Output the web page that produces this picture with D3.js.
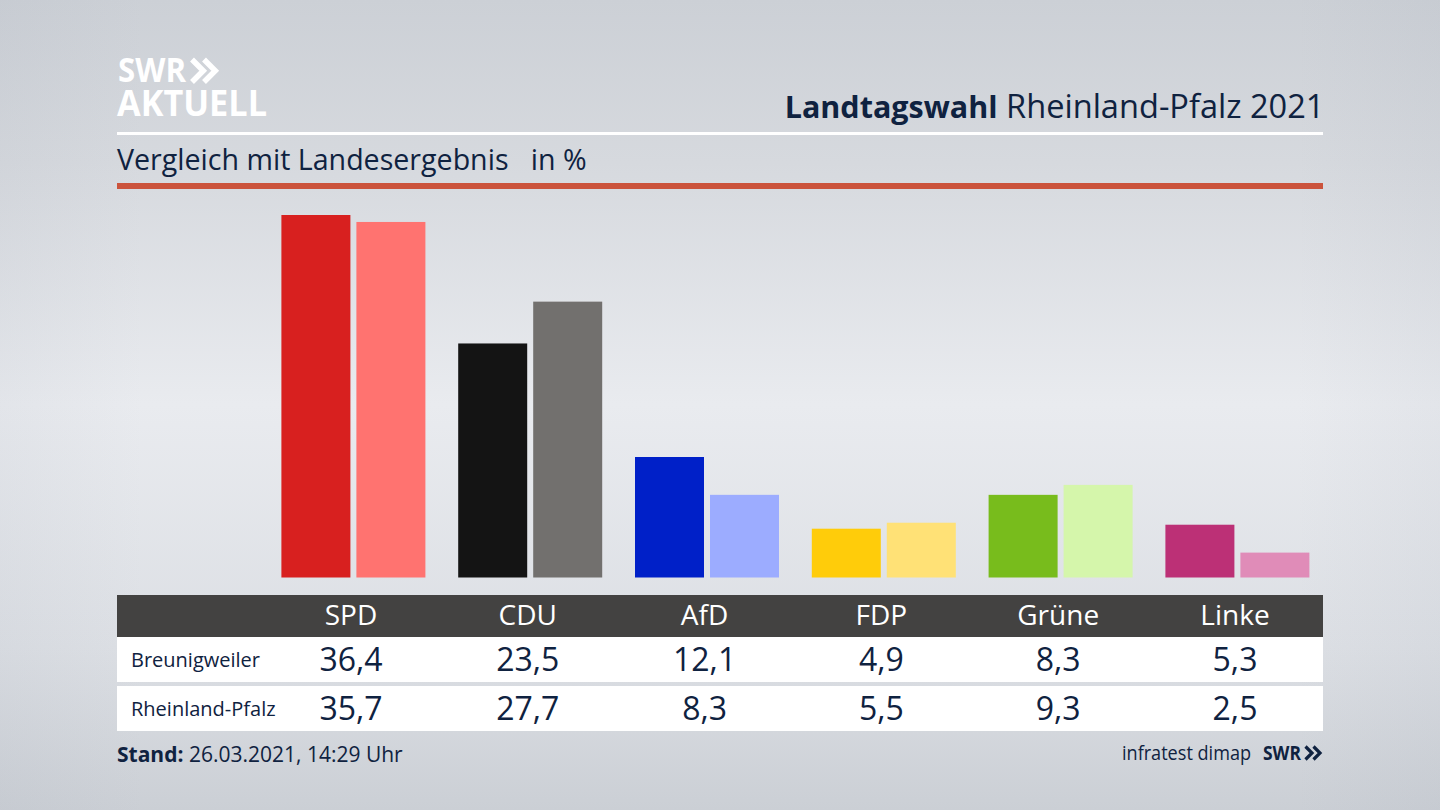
<!DOCTYPE html>
<html>
<head>
<meta charset="utf-8">
<script src="https://cdn.jsdelivr.net/npm/d3@7"></script>
<style>
	html, body { margin: 0; padding: 0; background: #d8dbe0; }
	svg { display: block; }
	text { font-family: "Open Sans", "Noto Sans", sans-serif; }
</style>
</head>
<body>
<div id="chart"></div>
<script>
const parties = ['SPD', 'CDU', 'AfD', 'FDP', 'Grüne', 'Linke']
const regions = ['Breunigweiler', 'Rheinland-Pfalz']
const breunigweiler = [36.4, 23.5, 12.1, 4.9, 8.3, 5.3]
const rheinlandPfalz = [35.7, 27.7, 8.3, 5.5, 9.3, 2.5]
const colorsLocal = ['#d8201f', '#141414', '#0020c8', '#ffcc0a', '#78bc1c', '#bc3076']
const colorsState = ['#ff7370', '#72706e', '#9cacff', '#ffe176', '#d5f6ab', '#e08cb8']

const navy = '#0f2240'
const width = 1440
const height = 810

const svg = d3.select('#chart').append('svg')
	.attr('width', width)
	.attr('height', height)

const defs = svg.append('defs')

const bgGrad = defs.append('linearGradient')
	.attr('id', 'bg')
	.attr('x1', 0).attr('y1', 0).attr('x2', 0).attr('y2', 1)
bgGrad.selectAll('stop')
	.data([[0, '#ccd0d6'], [0.2, '#d6d9de'], [0.5, '#e9ebef'], [0.8, '#dcdfe4'], [1, '#cbcfd5']])
	.enter()
	.append('stop')
	.attr('offset', d => d[0])
	.attr('stop-color', d => d[1])

const edgeGrad = defs.append('linearGradient')
	.attr('id', 'edge')
	.attr('x1', 0).attr('y1', 0).attr('x2', 1).attr('y2', 0)
edgeGrad.selectAll('stop')
	.data([[0, 0.07], [0.1, 0], [0.9, 0], [1, 0.07]])
	.enter()
	.append('stop')
	.attr('offset', d => d[0])
	.attr('stop-color', '#8a93a3')
	.attr('stop-opacity', d => d[1])

svg.append('rect').attr('width', width).attr('height', height).attr('fill', 'url(#bg)')
svg.append('rect').attr('width', width).attr('height', height).attr('fill', 'url(#edge)')

// scales
const x = d3.scaleBand().domain(parties).range([262.6, 1323.4])
const xInner = d3.scaleBand().domain([0, 1]).range([0, 144]).paddingInner(0.08)
const y = d3.scaleLinear().domain([0, 36.4]).range([577.5, 215])
// the bar pairs sit a bit right of the table columns
const groupOffset = (x.bandwidth() - 144) / 2 + 2.4

const chevrons = (sel, x0, y0, h, gap, strokeWidth, color) => {
	const line = d3.line()
	sel.selectAll('path')
		.data([0, 1])
		.enter()
		.append('path')
		.attr('d', i => line([
			[x0 + i * gap, y0],
			[x0 + i * gap + h / 2, y0 + h / 2],
			[x0 + i * gap, y0 + h]
		]))
		.attr('fill', 'none')
		.attr('stroke', color)
		.attr('stroke-width', strokeWidth)
}

// header
const logo = svg.append('g').attr('fill', '#fff').style('font-weight', 700)
logo.append('text')
	.attr('x', 118).attr('y', 82).attr('font-size', 34)
	.attr('textLength', 68).attr('lengthAdjust', 'spacingAndGlyphs')
	.text('SWR')
logo.append('text')
	.attr('x', 117).attr('y', 116).attr('font-size', 35)
	.attr('textLength', 150).attr('lengthAdjust', 'spacingAndGlyphs')
	.text('AKTUELL')
chevrons(svg.append('g'), 192, 59.5, 22.5, 12, 5.5, '#fff')

const title = svg.append('text')
	.attr('x', 1324.5)
	.attr('y', 118)
	.attr('text-anchor', 'end')
	.attr('fill', navy)
title.append('tspan').attr('font-weight', 700).attr('font-size', 30.5).text('Landtagswahl')
title.append('tspan').attr('font-size', 32.6).text(' Rheinland-Pfalz 2021')

svg.append('rect').attr('x', 117).attr('y', 132).attr('width', 1206).attr('height', 3).attr('fill', '#fff')

svg.append('text')
	.attr('x', 117)
	.attr('y', 170)
	.attr('font-size', 28.6)
	.attr('fill', navy)
	.attr('xml:space', 'preserve')
	.text('Vergleich mit Landesergebnis   in %')

svg.append('rect').attr('x', 117).attr('y', 183).attr('width', 1206).attr('height', 6).attr('fill', '#cb533c')

// bars
const groups = svg.append('g')
	.selectAll('g')
	.data(parties)
	.enter()
	.append('g')
	.attr('transform', d => `translate(${x(d) + groupOffset},0)`)

groups.selectAll('rect')
	.data((d, i) => [
		{series: 0, value: breunigweiler[i], color: colorsLocal[i]},
		{series: 1, value: rheinlandPfalz[i], color: colorsState[i]}
	])
	.enter()
	.append('rect')
	.attr('x', d => xInner(d.series))
	.attr('y', d => y(d.value))
	.attr('width', xInner.bandwidth())
	.attr('height', d => y(0) - y(d.value))
	.attr('fill', d => d.color)

// table
svg.append('rect').attr('x', 117).attr('y', 595).attr('width', 1206).attr('height', 42).attr('fill', '#434241')
svg.append('rect').attr('x', 117).attr('y', 637).attr('width', 1206).attr('height', 45).attr('fill', '#fff')
svg.append('rect').attr('x', 117).attr('y', 686).attr('width', 1206).attr('height', 45).attr('fill', '#fff')

svg.append('g')
	.selectAll('text')
	.data(parties)
	.enter()
	.append('text')
	.attr('x', d => x(d) + x.bandwidth() / 2)
	.attr('y', 625)
	.attr('text-anchor', 'middle')
	.attr('font-size', 28)
	.attr('fill', '#fff')
	.text(d => d)

const fmt = v => v.toFixed(1).replace('.', ',')

const rows = [breunigweiler, rheinlandPfalz]
const rowBase = [671, 720]
rows.forEach((values, r) => {
	svg.append('text')
		.attr('x', 131)
		.attr('y', rowBase[r] - 4)
		.attr('font-size', 20)
		.attr('fill', navy)
		.text(regions[r])
	svg.append('g')
		.selectAll('text')
		.data(values)
		.enter()
		.append('text')
		.attr('x', (d, i) => x(parties[i]) + x.bandwidth() / 2)
		.attr('y', rowBase[r])
		.attr('text-anchor', 'middle')
		.attr('font-size', 32)
		.attr('fill', navy)
		.text(fmt)
})

// footer
const stand = svg.append('text')
	.attr('x', 117)
	.attr('y', 762)
	.attr('font-size', 21)
	.attr('fill', navy)
stand.append('tspan').attr('font-weight', 700).text('Stand:')
stand.append('tspan').text(' 26.03.2021, 14:29 Uhr')

svg.append('text')
	.attr('x', 1122)
	.attr('y', 760)
	.attr('font-size', 20)
	.attr('textLength', 129)
	.attr('lengthAdjust', 'spacingAndGlyphs')
	.attr('fill', navy)
	.text('infratest dimap')

svg.append('text')
	.attr('x', 1263)
	.attr('y', 760)
	.attr('font-size', 20)
	.attr('font-weight', 700)
	.attr('textLength', 38)
	.attr('lengthAdjust', 'spacingAndGlyphs')
	.attr('fill', navy)
	.text('SWR')
chevrons(svg.append('g'), 1305.5, 746.5, 13, 8, 3.2, navy)
</script>
</body>
</html>
